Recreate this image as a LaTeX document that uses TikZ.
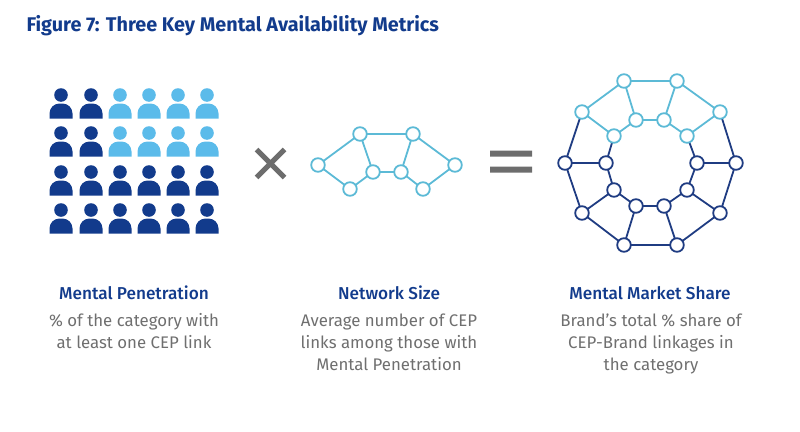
\documentclass[tikz,border=0pt]{standalone}
\usepackage{fontspec}
\setmainfont{Fira Sans}
\newfontfamily\headfont{Fira Sans Medium}
\usetikzlibrary{positioning}
\definecolor{bmoblue}{HTML}{123B8C}
\definecolor{skyblue}{HTML}{5BBBEA}
\definecolor{netlight}{HTML}{5CBAD6}
\definecolor{netdark}{HTML}{1F3C82}
\definecolor{bodygrey}{HTML}{6F6F6F}
\definecolor{signgrey}{HTML}{6D6D6D}

\begin{document}
\begin{tikzpicture}[
    x=1pt, y=-1pt,
    heading/.style={font=\headfont\fontsize{17.2}{20}\selectfont, text=bmoblue},
    caption/.style={font=\fontsize{16.8}{22}\selectfont, text=bodygrey, align=center},
    ring/.style={draw, circle, fill=white, line width=1.8pt, inner sep=0pt, minimum size=13.6pt},
    link/.style={line width=1.8pt},
    person/.pic={
        \fill (0,-12) circle (6.8);
        \fill (-11.5,11.5) -- (-11.5,6.5) arc[start angle=180, end angle=270, radius=10] -- (1.5,-3.5) arc[start angle=270, end angle=360, radius=10] -- (11.5,11.5) -- cycle;
    }
]
\useasboundingbox (0,0) rectangle (800,431);

% title
\node[anchor=west, font=\fontsize{19.8}{24}\selectfont\bfseries, text=bmoblue] (title) at (23,26) {Figure 7: Three Key Mental Availability Metrics};

% people
\foreach \row/\y in {1/107, 2/145, 3/184, 4/222} {
    \foreach \col/\x in {1/61, 2/91, 3/120, 4/149, 5/178, 6/207} {
        \def\pcolor{bmoblue}
        \ifnum\row<3 \ifnum\col>2 \def\pcolor{skyblue}\fi\fi
        \pic[fill=\pcolor] at (\x,\y) {person};
    }
}

% times and equals
\draw[signgrey, line width=5pt] (256.5,149.5) -- (284.5,177.5) (284.5,149.5) -- (256.5,177.5);
\fill[signgrey] (490,150.5) rectangle (532,156.5) (490,166.5) rectangle (532,172.5);

% small network
\draw[netlight, link]
    (318,165) coordinate (a) -- (360,134) coordinate (g) -- (413,134) coordinate (h)
    -- (455,165) coordinate (f) -- (423,189) coordinate (e) -- (401,172) coordinate (d)
    -- (373,172) coordinate (c) -- (350,189) coordinate (b) -- (a)
    (g) -- (c) (h) -- (d);
\foreach \n in {a,...,h}
    \node[ring, draw=netlight] (small\n) at (\n) {};

% big network: nodes
\foreach \i/\x/\y in {
    1/624/81, 2/677/81, 3/720/112, 4/736/163, 5/720/213,
    6/677/245, 7/624/245, 8/582/213, 9/565/163, 10/582/112} {
    \coordinate (out\i) at (\x,\y);
}
\foreach \i/\x/\y in {
    1/636/120, 2/664/120, 3/687/136, 4/697/163, 5/687/190,
    6/664/206, 7/636/206, 8/614/190, 9/606/163, 10/614/136} {
    \coordinate (in\i) at (\x,\y);
}

% big network: links
\draw[netdark, link] (out3) -- (out4) -- (out5) -- (out6) -- (out7) -- (out8) -- (out9) -- (out10);
\draw[netdark, link] (in3) -- (in4) -- (in5) -- (in6) -- (in7) -- (in8) -- (in9) -- (in10);
\foreach \i in {4,...,9}
    \draw[netdark, link] (out\i) -- (in\i);
\draw[netlight, link] (out3) -- (out2) -- (out1) -- (out10) -- (in10) -- (in1) -- (in2) -- (in3) -- (out3);
\draw[netlight, link] (out1) -- (in1) (out2) -- (in2);

\foreach \i in {1,2,3,10} {
    \node[ring, draw=netlight] (outer\i) at (out\i) {};
    \node[ring, draw=netlight] (inner\i) at (in\i) {};
}
\foreach \i in {4,...,9} {
    \node[ring, draw=netdark] (outer\i) at (out\i) {};
    \node[ring, draw=netdark] (inner\i) at (in\i) {};
}

% labels
\node[heading] (penetration) at (134,293) {Mental Penetration};
\node[heading] (size) at (389,293) {Network Size};
\node[heading] (share) at (650,293) {Mental Market Share};
\node[caption, anchor=north] (penetrationtext) at (134,310) {\% of the category with\\at least one CEP link};
\node[caption, anchor=north] (sizetext) at (389,310) {Average number of CEP\\links among those with\\Mental Penetration};
\node[caption, anchor=north] (sharetext) at (651,310) {Brand’s total \% share of\\CEP-Brand linkages in\\the category};
\end{tikzpicture}
\end{document}
